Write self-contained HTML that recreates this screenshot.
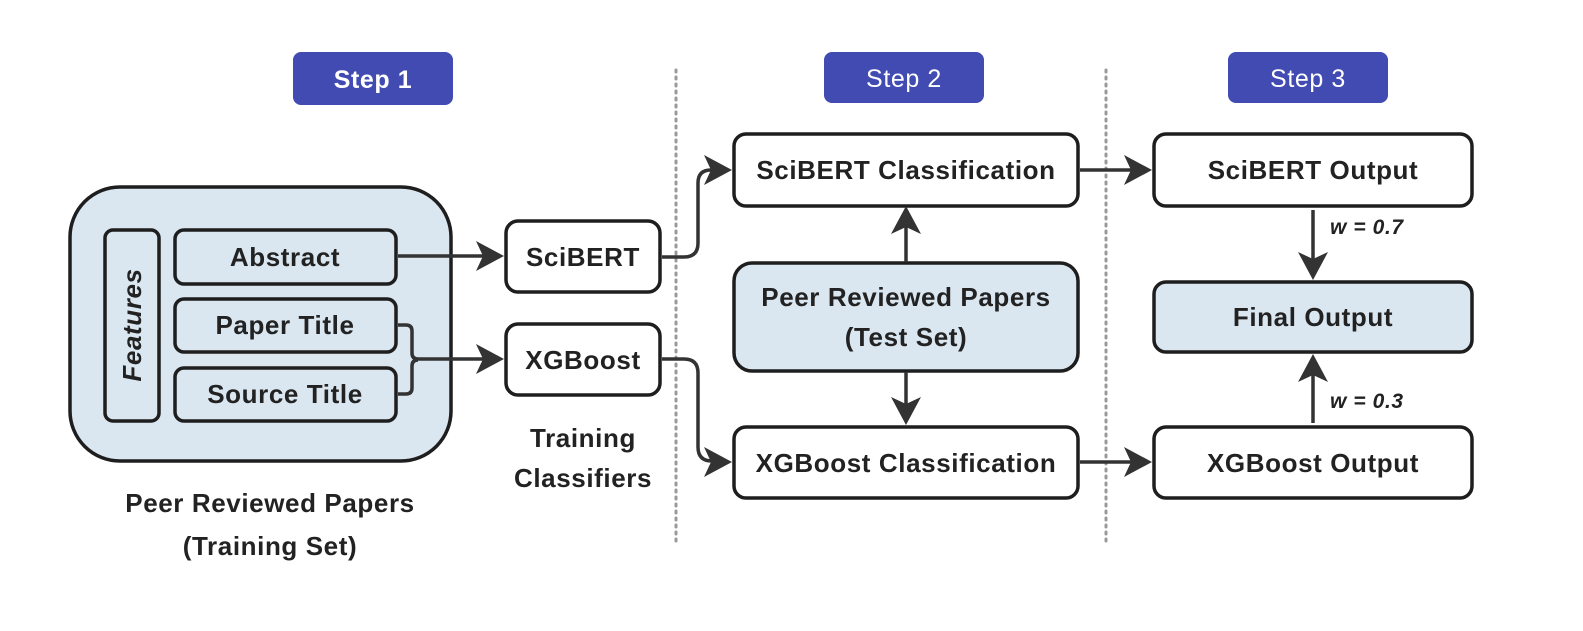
<!DOCTYPE html>
<html><head><meta charset="utf-8"><style>
html,body{margin:0;padding:0;background:#fff;}
svg{display:block;}
text{font-family:"Liberation Sans",sans-serif;font-weight:bold;fill:#222;letter-spacing:0.6px;}
</style></head><body>
<svg width="1583" height="631" viewBox="0 0 1583 631" xmlns="http://www.w3.org/2000/svg">
<line x1="676" y1="70" x2="676" y2="545" stroke="#999" stroke-width="3" stroke-dasharray="2,5" stroke-linecap="round"/>
<line x1="1106" y1="70" x2="1106" y2="545" stroke="#999" stroke-width="3" stroke-dasharray="2,5" stroke-linecap="round"/>

<rect x="293" y="52" width="160" height="53" rx="8" fill="#414bb2"/>
<text x="373" y="88" text-anchor="middle" font-size="25" style="fill:#fff">Step 1</text>
<rect x="824" y="52" width="160" height="51" rx="8" fill="#414bb2"/>
<text x="904" y="87" text-anchor="middle" font-size="25" style="fill:#fff;font-weight:normal">Step 2</text>
<rect x="1228" y="52" width="160" height="51" rx="8" fill="#414bb2"/>
<text x="1308" y="87" text-anchor="middle" font-size="25" style="fill:#fff;font-weight:normal">Step 3</text>

<g stroke="#1e1e1e" stroke-width="3.5">
<rect x="70" y="187" width="381" height="274" rx="50" fill="#dae7f1"/>
<rect x="105" y="230" width="54" height="191" rx="8" fill="#dae7f1"/>
<rect x="175" y="230" width="221" height="54" rx="9" fill="#dae7f1"/>
<rect x="175" y="299" width="221" height="53" rx="9" fill="#dae7f1"/>
<rect x="175" y="368" width="221" height="53" rx="9" fill="#dae7f1"/>

<rect x="506" y="221" width="154" height="71" rx="12" fill="#fff"/>
<rect x="506" y="324" width="154" height="71" rx="12" fill="#fff"/>

<rect x="734" y="134" width="344" height="72" rx="12" fill="#fff"/>
<rect x="734" y="263" width="344" height="108" rx="18" fill="#dae7f1"/>
<rect x="734" y="427" width="344" height="71" rx="12" fill="#fff"/>

<rect x="1154" y="134" width="318" height="72" rx="12" fill="#fff"/>
<rect x="1154" y="282" width="318" height="70" rx="12" fill="#dae7f1"/>
<rect x="1154" y="427" width="318" height="71" rx="12" fill="#fff"/>
</g>

<g stroke="#333" stroke-width="3.5" fill="none">
<line x1="398" y1="256" x2="485" y2="256"/>
<path d="M398,325 h8 q6,0 6,6 v22 q0,6 6,6 h67"/>
<path d="M398,394 h8 q6,0 6,-6 v-22 q0,-6 6,-6"/>
<path d="M662,257 h22 q14,0 14,-14 v-60 q0,-13 13,-13 h4"/>
<path d="M662,359 h22 q14,0 14,14 v74 q0,14 14,14 h4"/>
<line x1="906" y1="262" x2="906" y2="226"/>
<line x1="906" y1="372" x2="906" y2="408"/>
<line x1="1080" y1="170" x2="1135" y2="170"/>
<line x1="1080" y1="462" x2="1135" y2="462"/>
<line x1="1313" y1="210" x2="1313" y2="262"/>
<line x1="1313" y1="423" x2="1313" y2="372"/>
</g>
<g fill="#333">
<polygon points="504,256 476,241 483,256 476,271"/>
<polygon points="504,359 476,344 483,359 476,374"/>
<polygon points="732,170 704,155 711,170 704,185"/>
<polygon points="732,462 704,447 711,462 704,477"/>
<polygon points="1152,170 1124,155 1131,170 1124,185"/>
<polygon points="1152,462 1124,447 1131,462 1124,477"/>
<polygon points="906,206 891,234 906,227 921,234"/>
<polygon points="906,425 891,397 906,404 921,397"/>
<polygon points="1313,280 1298,252 1313,259 1328,252"/>
<polygon points="1313,354 1298,382 1313,375 1328,382"/>
</g>

<text x="285" y="266" text-anchor="middle" font-size="26">Abstract</text>
<text x="285" y="334" text-anchor="middle" font-size="26">Paper Title</text>
<text x="285" y="403" text-anchor="middle" font-size="26">Source Title</text>
<text transform="translate(141,325) rotate(-90)" text-anchor="middle" font-size="26" font-style="italic">Features</text>
<text x="583" y="266" text-anchor="middle" font-size="26">SciBERT</text>
<text x="583" y="369" text-anchor="middle" font-size="26">XGBoost</text>
<text x="906" y="179" text-anchor="middle" font-size="26">SciBERT Classification</text>
<text x="906" y="306" text-anchor="middle" font-size="26">Peer Reviewed Papers</text>
<text x="906" y="346" text-anchor="middle" font-size="26">(Test Set)</text>
<text x="906" y="472" text-anchor="middle" font-size="26">XGBoost Classification</text>
<text x="1313" y="179" text-anchor="middle" font-size="26">SciBERT Output</text>
<text x="1313" y="326" text-anchor="middle" font-size="26">Final Output</text>
<text x="1313" y="472" text-anchor="middle" font-size="26">XGBoost Output</text>
<text x="1330" y="234" font-size="21" font-style="italic">w = 0.7</text>
<text x="1330" y="408" font-size="21" font-style="italic">w = 0.3</text>
<text x="583" y="447" text-anchor="middle" font-size="26">Training</text>
<text x="583" y="487" text-anchor="middle" font-size="26">Classifiers</text>
<text x="270" y="512" text-anchor="middle" font-size="26">Peer Reviewed Papers</text>
<text x="270" y="555" text-anchor="middle" font-size="26">(Training Set)</text>
</svg>
</body></html>
